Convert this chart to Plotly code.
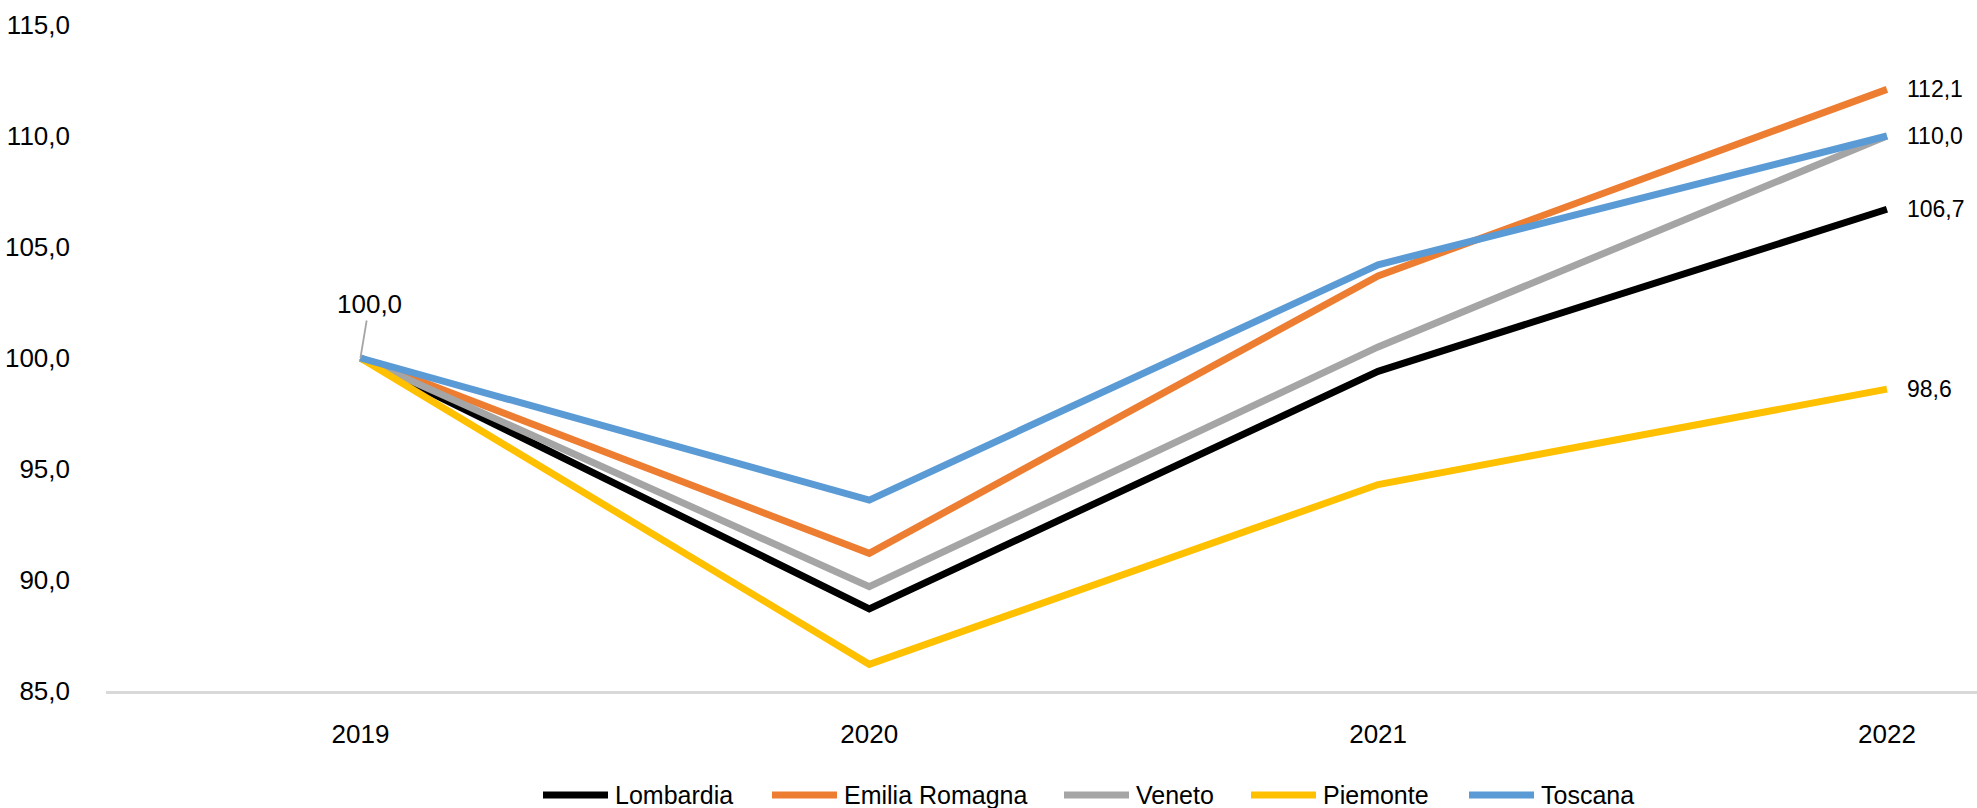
import plotly.graph_objects as go

years = ["2019", "2020", "2021", "2022"]
lombardia = [100.0, 88.7, 99.4, 106.7]
emilia_romagna = [100.0, 91.2, 103.7, 112.1]
veneto = [100.0, 89.7, 100.5, 110.0]
piemonte = [100.0, 86.2, 94.3, 98.6]
toscana = [100.0, 93.6, 104.2, 110.0]

series_names = ["Lombardia", "Emilia Romagna", "Veneto", "Piemonte", "Toscana"]
series_values = [lombardia, emilia_romagna, veneto, piemonte, toscana]
colors = ["#000000", "#ED7D31", "#A5A5A5", "#FFC000", "#5B9BD5"]

y_ticks = [85, 90, 95, 100, 105, 110, 115]

FONT = "Liberation Sans Narrow, Arial Narrow, Liberation Sans, Arial, sans-serif"
FS = 26

W, H = 1977, 808
ML, MR, MT, MB = 106, 0, 25, 117
PLOT_W = W - ML - MR
PLOT_H = H - MT - MB

def fmt(v):
    return f"{v:.1f}".replace(".", ",")

def px_to_paper_x(px):
    return (px - ML) / PLOT_W

def px_to_paper_y(py):
    return (H - MB - py) / PLOT_H

fig = go.Figure()
for name, vals, col in zip(series_names, series_values, colors):
    fig.add_trace(go.Scatter(
        x=years, y=vals, name=name, mode="lines",
        line=dict(color=col, width=7),
        showlegend=False,
    ))

# end-of-line labels (deduplicated where values coincide)
last_idx = len(years) - 1
seen = set()
for vals in series_values:
    v = vals[-1]
    if v in seen:
        continue
    seen.add(v)
    fig.add_annotation(
        x=last_idx, y=v, text=fmt(v), showarrow=False,
        xanchor="left", yanchor="middle", xshift=18,
        font=dict(family=FONT, size=23, color="#000000"),
    )

# start label with leader line
fig.add_annotation(
    x=0, y=toscana[0], text=fmt(toscana[0]), showarrow=True,
    arrowhead=0, arrowwidth=1.8, arrowcolor="#A6A6A6", standoff=0,
    ax=9, ay=-54,
    font=dict(family=FONT, size=FS, color="#000000"),
)

# legend (drawn below the plot so it does not push the margins)
legend_item_px = [540, 769, 1061, 1248, 1466]
LEG_LINE = 71
LEG_Y = 795
ly = px_to_paper_y(LEG_Y)
for name, col, x0 in zip(series_names, colors, legend_item_px):
    fig.add_shape(
        type="line", xref="paper", yref="paper",
        x0=px_to_paper_x(x0 + 3), x1=px_to_paper_x(x0 + LEG_LINE - 3),
        y0=ly, y1=ly,
        line=dict(color=col, width=7),
    )
    fig.add_annotation(
        xref="paper", yref="paper",
        x=px_to_paper_x(x0 + LEG_LINE + 2), y=ly,
        text=name, showarrow=False, xanchor="left", yanchor="middle",
        font=dict(family=FONT, size=25, color="#000000"),
    )

fig.update_layout(
    width=W, height=H,
    margin=dict(l=ML, r=MR, t=MT, b=MB),
    paper_bgcolor="white", plot_bgcolor="white",
    separators=",.",
    font=dict(family=FONT, size=FS, color="#000000"),
    showlegend=False,
    xaxis=dict(
        type="category", range=[-0.5, 3.177], automargin=False,
        showgrid=False, zeroline=False,
        showline=True, linecolor="#D9D9D9", linewidth=2.5,
        ticks="", ticklabelstandoff=18,
        tickfont=dict(family=FONT, size=FS, color="#000000"),
    ),
    yaxis=dict(
        range=[85, 115], tickvals=y_ticks, tickformat=".1f", automargin=False,
        showgrid=False, zeroline=False, showline=False,
        ticks="", ticklabelstandoff=35,
        tickfont=dict(family=FONT, size=FS, color="#000000"),
    ),
)

fig.write_html(
    "out.html",
    config={"displayModeBar": False},
    post_script="document.body.style.margin='0';document.body.style.overflow='hidden';",
)
